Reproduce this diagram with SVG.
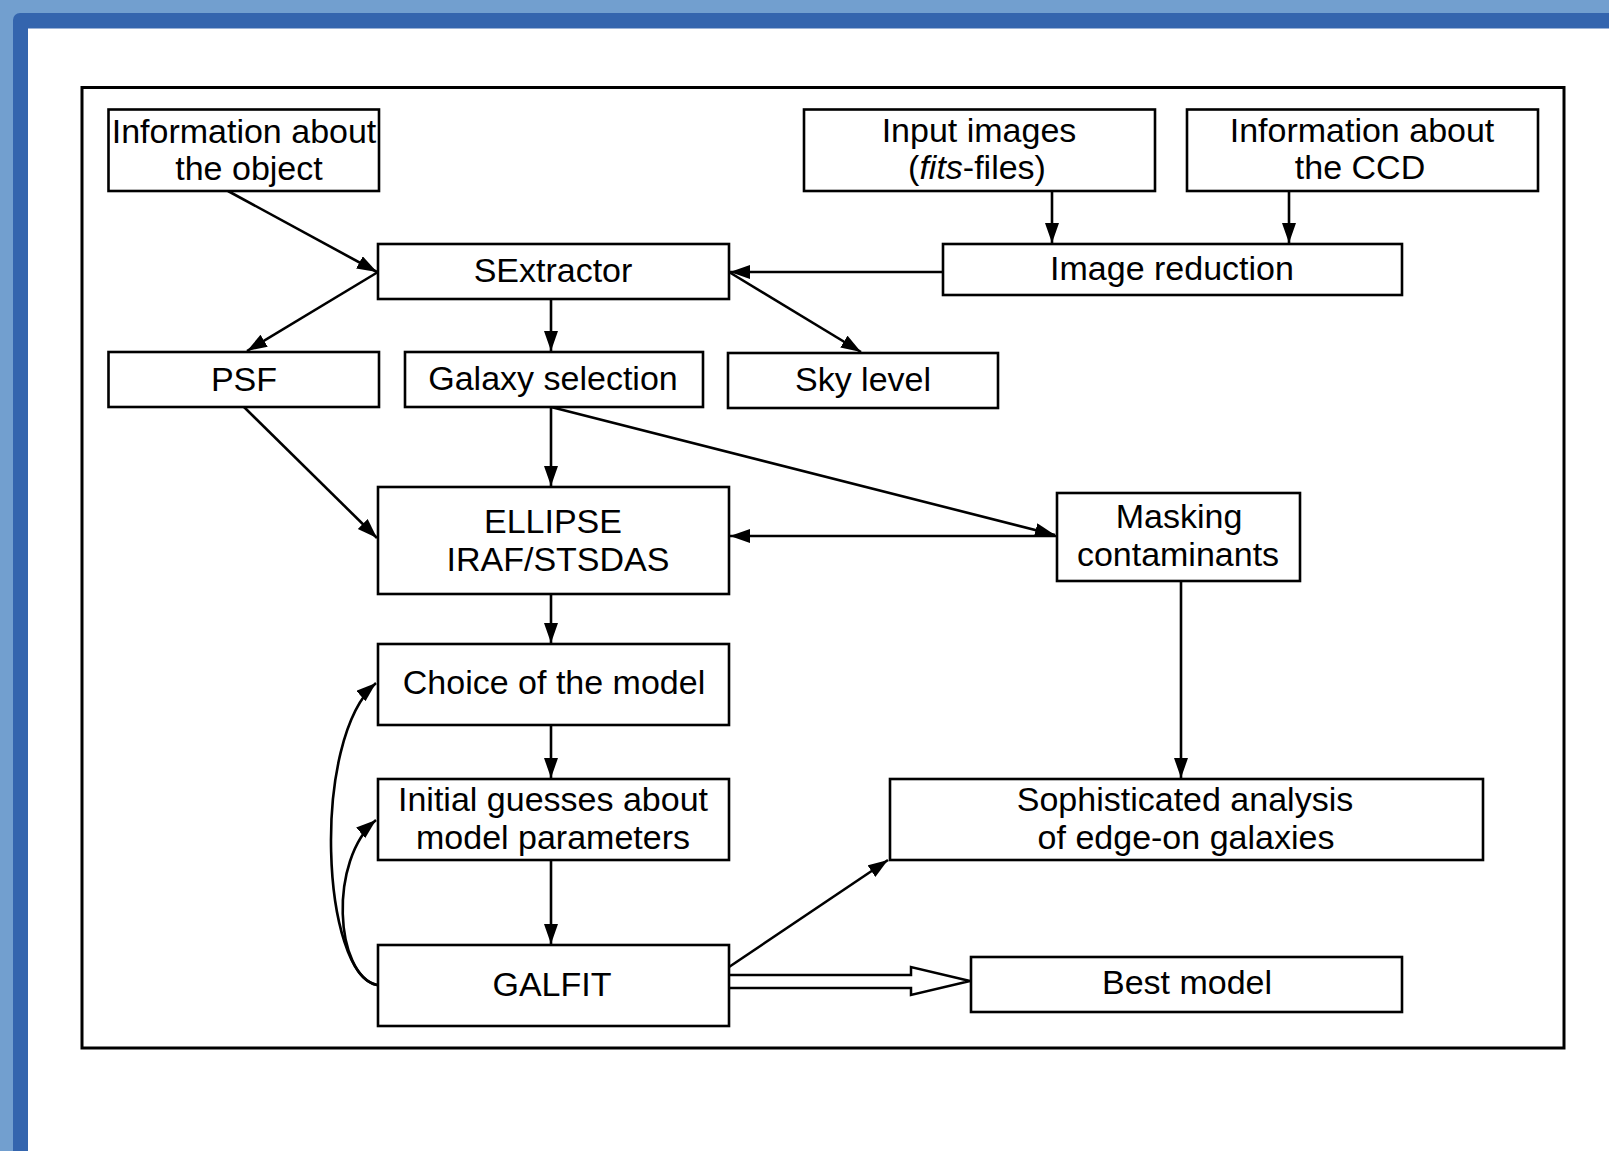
<svg xmlns="http://www.w3.org/2000/svg" width="1609" height="1151" viewBox="0 0 1609 1151">
<defs>
<style>
.box{fill:#fff;stroke:#000;stroke-width:2.6}
.t{font-family:"Liberation Sans",Arial,sans-serif;font-size:34px;fill:#000;text-anchor:middle}
.c{fill:none;stroke:#000;stroke-width:2.6}
</style>
<marker id="ah" markerUnits="userSpaceOnUse" markerWidth="21" markerHeight="15" refX="20" refY="7" orient="auto">
<path d="M0,0 L20,7 L0,14 z" fill="#000"/>
</marker>
</defs>
<rect x="0" y="0" width="1609" height="1151" fill="#729fcf"/>
<rect x="13" y="13" width="1620" height="1160" rx="7" fill="#3465ae"/>
<rect x="28" y="28.5" width="1581" height="1123" fill="#fff"/>
<rect x="82" y="87.5" width="1482" height="960.5" fill="none" stroke="#000" stroke-width="3"/>
<g id="connectors">
<line class="c" x1="228" y1="191" x2="377" y2="272" marker-end="url(#ah)"/>
<line class="c" x1="378" y1="272" x2="247" y2="351" marker-end="url(#ah)"/>
<line class="c" x1="551" y1="299" x2="551" y2="351" marker-end="url(#ah)"/>
<line class="c" x1="943" y1="272" x2="730" y2="272" marker-end="url(#ah)"/>
<line class="c" x1="729" y1="272" x2="861" y2="352" marker-end="url(#ah)"/>
<line class="c" x1="1052" y1="191" x2="1052" y2="243" marker-end="url(#ah)"/>
<line class="c" x1="1289" y1="191" x2="1289" y2="243" marker-end="url(#ah)"/>
<line class="c" x1="244" y1="407" x2="377" y2="538" marker-end="url(#ah)"/>
<line class="c" x1="551" y1="407" x2="551" y2="486" marker-end="url(#ah)"/>
<line class="c" x1="551" y1="407" x2="1055" y2="535" marker-end="url(#ah)"/>
<line class="c" x1="1057" y1="536" x2="730" y2="536" marker-end="url(#ah)"/>
<line class="c" x1="551" y1="594" x2="551" y2="643" marker-end="url(#ah)"/>
<line class="c" x1="551" y1="725" x2="551" y2="778" marker-end="url(#ah)"/>
<line class="c" x1="551" y1="860" x2="551" y2="944" marker-end="url(#ah)"/>
<line class="c" x1="1181" y1="581" x2="1181" y2="778" marker-end="url(#ah)"/>
<line class="c" x1="729" y1="967" x2="888" y2="860" marker-end="url(#ah)"/>
<path class="c" d="M377,985 C322,975 310,740 376,683" marker-end="url(#ah)"/>
<path class="c" d="M377,985 C335,975 328,860 376,820" marker-end="url(#ah)"/>
<polyline points="729,975 911,975 911,967 970,981 911,995 911,988 729,988" fill="#fff" stroke="#000" stroke-width="2.5" stroke-linejoin="miter"/>
</g>
<g id="n-info-object"><rect class="box" x="108.5" y="109.5" width="270.5" height="81.5"/><text class="t" x="244" y="143">Information about</text><text class="t" x="249" y="180">the object</text></g>
<g id="n-input-images"><rect class="box" x="804" y="109.5" width="351" height="81.5"/><text class="t" x="979" y="142">Input images</text><text class="t" x="977" y="179">(<tspan font-style="italic">fits</tspan>-files)</text></g>
<g id="n-info-ccd"><rect class="box" x="1187" y="109.5" width="351" height="81.5"/><text class="t" x="1362" y="142">Information about</text><text class="t" x="1360" y="179">the CCD</text></g>
<g id="n-sextractor"><rect class="box" x="378" y="244" width="351" height="55"/><text class="t" x="553" y="282">SExtractor</text></g>
<g id="n-image-reduction"><rect class="box" x="943" y="244" width="459" height="51"/><text class="t" x="1172" y="280">Image reduction</text></g>
<g id="n-psf"><rect class="box" x="108.5" y="352" width="270.5" height="55"/><text class="t" x="244" y="391">PSF</text></g>
<g id="n-galaxy-selection"><rect class="box" x="405" y="352" width="298" height="55"/><text class="t" x="553" y="390">Galaxy selection</text></g>
<g id="n-sky-level"><rect class="box" x="728" y="353" width="270" height="55"/><text class="t" x="863" y="391">Sky level</text></g>
<g id="n-ellipse"><rect class="box" x="378" y="487" width="351" height="107"/><text class="t" x="553" y="533">ELLIPSE</text><text class="t" x="558" y="571">IRAF/STSDAS</text></g>
<g id="n-masking"><rect class="box" x="1057" y="493" width="243" height="88"/><text class="t" x="1179" y="528">Masking</text><text class="t" x="1178" y="566">contaminants</text></g>
<g id="n-choice-model"><rect class="box" x="378" y="644" width="351" height="81"/><text class="t" x="554" y="694">Choice of the model</text></g>
<g id="n-initial-guesses"><rect class="box" x="378" y="779" width="351" height="81"/><text class="t" x="553" y="811">Initial guesses about</text><text class="t" x="553" y="849">model parameters</text></g>
<g id="n-sophisticated"><rect class="box" x="890" y="779" width="593" height="81"/><text class="t" x="1185" y="811">Sophisticated analysis</text><text class="t" x="1186" y="849">of edge-on galaxies</text></g>
<g id="n-galfit"><rect class="box" x="378" y="945" width="351" height="81"/><text class="t" x="552" y="996">GALFIT</text></g>
<g id="n-best-model"><rect class="box" x="971" y="957" width="431" height="55"/><text class="t" x="1187" y="994">Best model</text></g>
</svg>
